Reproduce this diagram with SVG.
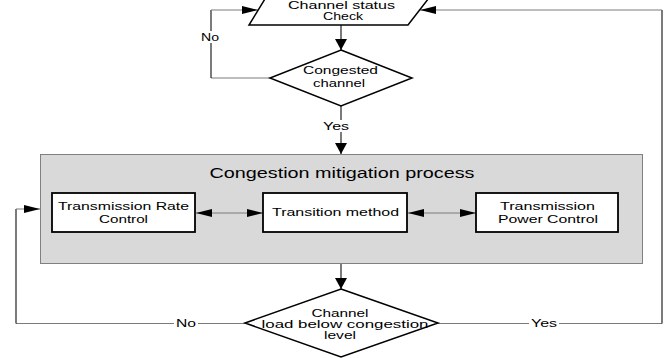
<svg xmlns="http://www.w3.org/2000/svg" width="664" height="358" viewBox="0 0 664 358">
<style>
  .t { font-family: "Liberation Sans", Arial, sans-serif; font-size: 11px; fill: #000; text-anchor: middle; }
  .title { font-size: 14px; }
  .shape { fill: #fff; stroke: #000; stroke-width: 1.5; }
  .box { fill: #fff; stroke: #000; stroke-width: 1.8; }
  .group { fill: #d9d9d9; stroke: #808080; stroke-width: 1; }
  .h { fill: none; stroke: #7a7a7a; stroke-width: 1; }
  .v { fill: none; stroke: #222; stroke-width: 1.2; }
  .lbl { fill: #fff; }
</style>
<defs>
  <marker id="ah" markerUnits="userSpaceOnUse" markerWidth="16" markerHeight="10" viewBox="0 0 16 10" refX="16" refY="5" orient="auto-start-reverse">
    <path d="M0,1 L16,5 L0,9 z" fill="#000"/>
  </marker>
  <marker id="av" markerUnits="userSpaceOnUse" markerWidth="11" markerHeight="12" viewBox="0 0 11 12" refX="11" refY="6" orient="auto">
    <path d="M0,0 L11,6 L0,12 z" fill="#000"/>
  </marker>
</defs>

<g id="mitigation-process">
  <rect class="group" x="40.5" y="154.5" width="602" height="109"/>
  <text class="t title" x="342" y="178" textLength="265" lengthAdjust="spacingAndGlyphs">Congestion mitigation process</text>
</g>

<g id="connectors">
  <line class="v" x1="341" y1="25" x2="341" y2="50" marker-end="url(#av)"/>
  <polyline class="h" points="270,78 211,78"/>
  <polyline class="v" points="211,78 211,10"/>
  <line class="h" x1="211" y1="10" x2="258" y2="10" marker-end="url(#ah)"/>
  <line class="v" x1="341" y1="106" x2="341" y2="154" marker-end="url(#av)"/>
  <line class="v" x1="341" y1="264" x2="341" y2="289" marker-end="url(#av)"/>
  <polyline class="h" points="245,323.5 16,323.5"/>
  <polyline class="v" points="16,323.5 16,209"/>
  <line class="h" x1="16" y1="209" x2="40" y2="209" marker-end="url(#ah)"/>
  <polyline class="h" points="438,323.5 662,323.5"/>
  <polyline class="v" points="662,323.5 662,10"/>
  <line class="h" x1="662" y1="10" x2="420" y2="10" marker-end="url(#ah)"/>
  <line class="h" x1="196" y1="213" x2="263" y2="213" marker-start="url(#ah)" marker-end="url(#ah)"/>
  <line class="h" x1="408" y1="213" x2="476" y2="213" marker-start="url(#ah)" marker-end="url(#ah)"/>
  <rect class="lbl" x="199" y="31" width="22" height="12"/>
  <text class="t" x="210" y="41" textLength="18" lengthAdjust="spacingAndGlyphs">No</text>
  <rect class="lbl" x="320" y="120" width="30" height="12"/>
  <text class="t" x="336" y="130" textLength="26" lengthAdjust="spacingAndGlyphs">Yes</text>
  <rect class="lbl" x="174" y="317" width="24" height="12"/>
  <text class="t" x="186" y="327" textLength="20" lengthAdjust="spacingAndGlyphs">No</text>
  <rect class="lbl" x="529" y="317" width="30" height="12"/>
  <text class="t" x="544" y="327" textLength="26" lengthAdjust="spacingAndGlyphs">Yes</text>
</g>

<g id="channel-status-check">
  <polygon class="shape" points="268,-6 432,-6 408,25 249,25"/>
  <text class="t" x="341.5" y="9" textLength="107" lengthAdjust="spacingAndGlyphs">Channel status</text>
  <text class="t" x="343" y="20" textLength="40" lengthAdjust="spacingAndGlyphs">Check</text>
</g>

<g id="congested-channel">
  <polygon class="shape" points="341,50 412,78 341,106 270,78"/>
  <text class="t" x="340.5" y="74" textLength="75" lengthAdjust="spacingAndGlyphs">Congested</text>
  <text class="t" x="339" y="87" textLength="52" lengthAdjust="spacingAndGlyphs">channel</text>
</g>

<g id="transmission-rate-control">
  <rect class="box" x="52" y="193" width="143" height="39"/>
  <text class="t" x="123.5" y="210" textLength="131" lengthAdjust="spacingAndGlyphs">Transmission Rate</text>
  <text class="t" x="123.5" y="223" textLength="49" lengthAdjust="spacingAndGlyphs">Control</text>
</g>

<g id="transition-method">
  <rect class="box" x="263" y="193" width="144" height="39"/>
  <text class="t" x="335.5" y="216" textLength="127" lengthAdjust="spacingAndGlyphs">Transition method</text>
</g>

<g id="transmission-power-control">
  <rect class="box" x="476" y="193" width="142" height="39"/>
  <text class="t" x="547.5" y="210" textLength="95" lengthAdjust="spacingAndGlyphs">Transmission</text>
  <text class="t" x="548" y="223" textLength="100" lengthAdjust="spacingAndGlyphs">Power Control</text>
</g>

<g id="channel-load-check">
  <polygon class="shape" points="341,289 438,323 341,357 245,323"/>
  <text class="t" x="340" y="317" textLength="57" lengthAdjust="spacingAndGlyphs">Channel</text>
  <text class="t" x="345" y="328" textLength="167" lengthAdjust="spacingAndGlyphs">load below congestion</text>
  <text class="t" x="340" y="339" textLength="32" lengthAdjust="spacingAndGlyphs">level</text>
</g>
</svg>
